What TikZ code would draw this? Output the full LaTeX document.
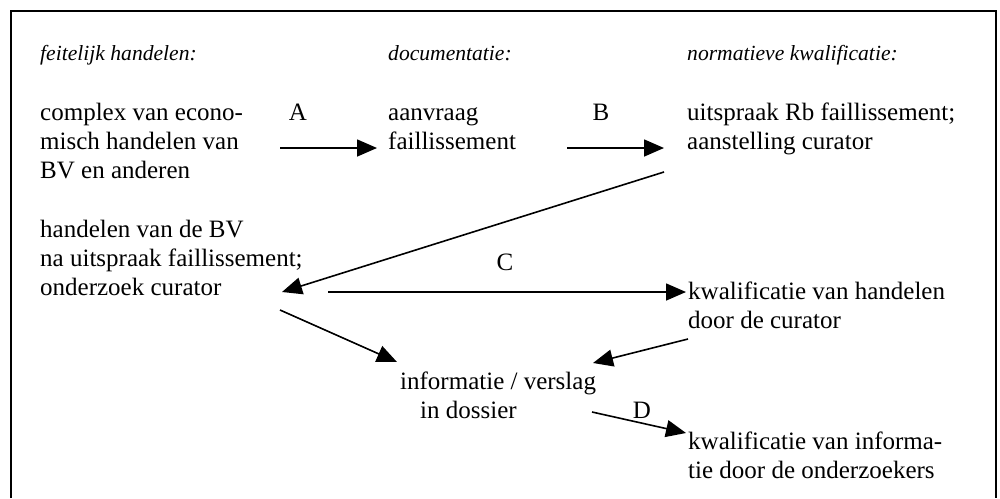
\documentclass[tikz,border=0pt]{standalone}
\usepackage{fontspec}
\setmainfont{Liberation Serif}
\usepackage{tikz}
\usetikzlibrary{arrows.meta}
\tikzset{
    txt/.style={anchor=base west, inner sep=0pt, align=left, font=\fontsize{25}{29}\selectfont},
    kop/.style={txt, font=\fontsize{21.6}{29}\selectfont\itshape},
    labelstyle/.style={anchor=base, inner sep=0pt, font=\fontsize{25}{29}\selectfont},
    arrow/.style={line width=1.6pt, -{Triangle[length=20pt, width=17pt]}},
}

\begin{document}
\begin{tikzpicture}[x=1pt, y=-1pt]

    \useasboundingbox (0,0) rectangle (1000,498);
    % Frame (open at the bottom)
    \draw[line width=1.8pt] (11,498) -- (11,11) -- (996,11) -- (996,498);

    % Headings
    \node[kop] (feitelijk) at (40,60) {feitelijk handelen:};
    \node[kop] (documentatie) at (388,60) {documentatie:};
    \node[kop] (normatief) at (687,60) {normatieve kwalificatie:};

    % Nodes (base = baseline of the last line)
    \node[txt] (complex) at (40,178) {complex van econo-\\misch handelen van\\BV en anderen};
    \node[txt] (aanvraag) at (388,149) {aanvraag\\faillissement};
    \node[txt] (uitspraak) at (687,149) {uitspraak Rb faillissement;\\aanstelling curator};
    \node[txt] (handelen) at (40,295) {handelen van de BV\\na uitspraak faillissement;\\onderzoek curator};
    \node[txt] (kwalhandelen) at (688,328) {kwalificatie van handelen\\door de curator};
    \node[txt] (informatie) at (400,418) {informatie / verslag\\\hspace{20pt}in dossier};
    \node[txt] (kwalinfo) at (688,478) {kwalificatie van informa-\\tie door de onderzoekers};

    % Labels
    \node[labelstyle] (labelA) at (298,120) {A};
    \node[labelstyle] (labelB) at (601,120) {B};
    \node[labelstyle] (labelC) at (505,270) {C};
    \node[labelstyle] (labelD) at (642,418) {D};

    % Arrows
    \draw[arrow] ([shift={(240,-30)}]complex.base west) -- ([shift={(-11,-1)}]aanvraag.base west);
    \draw[arrow] ([shift={(179,-1)}]aanvraag.base west) -- ([shift={(-23,-1)}]uitspraak.base west);
    \draw[arrow] ([shift={(-23,23)}]uitspraak.base west) -- ([shift={(242,-3)}]handelen.base west);
    \draw[arrow] ([shift={(288,-3)}]handelen.base west) -- ([shift={(-2,-36)}]kwalhandelen.base west);
    \draw[arrow] ([shift={(240,15)}]handelen.base west) -- ([shift={(-3,-56)}]informatie.base west);
    \draw[arrow] ([shift={(0,11)}]kwalhandelen.base west) -- ([shift={(193,-55)}]informatie.base west);
    \draw[arrow] ([shift={(192,-6)}]informatie.base west) -- ([shift={(-2,-45)}]kwalinfo.base west);

\end{tikzpicture}
\end{document}
